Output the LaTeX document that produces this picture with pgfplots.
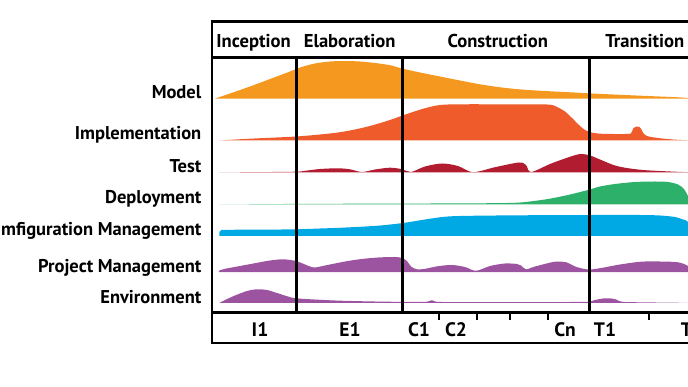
\documentclass[border=0pt]{standalone}
\usepackage{pgfplots}
\pgfplotsset{compat=1.18}
\usepackage{fontspec}
\setmainfont{PT Sans}
\definecolor{cModel}{RGB}{245,152,32}
\definecolor{cImpl}{RGB}{239,91,43}
\definecolor{cTest}{RGB}{178,28,48}
\definecolor{cDepl}{RGB}{45,176,106}
\definecolor{cConf}{RGB}{0,168,228}
\definecolor{cPM}{RGB}{157,84,160}
\begin{document}
\begin{tikzpicture}
\begin{axis}[name=ax, at={(0,0)}, anchor=south west, scale only axis,
  width=688pt, height=387pt, xmin=0, xmax=688, ymin=0, ymax=387,
  y dir=reverse, hide axis, clip=true]
% Model
\addplot[fill=cModel, draw=none, smooth] coordinates {(215,98.6) (230,93.5) (250,86.5) (270,79) (290,71.5) (300,67.5) (315,63.5) (330,61.5) (345,61) (360,61.5) (375,63) (390,65.2) (402,68.5) (420,72.5) (440,76.5) (460,80.5) (480,84.3) (500,87.3) (520,89.4) (545,91) (570,92.3) (590,93.4) (620,94.8) (650,96.1) (680,97.4) (695,98.6)} -- cycle;
% Implementation
\addplot[fill=cImpl, draw=none, smooth] coordinates {(219,140.5) (250,138.7) (296,136.5) (330,133.5) (350,130.5) (370,126) (390,120) (404,115) (424,108.5) (440,105) (460,104.3) (500,104.3) (547,104.5) (557,107) (565,111.5) (572,118) (579,125) (585,130) (592,132.6) (602,133.8) (625,134) (631,133.3) (633.5,128) (636.5,126.5) (639.5,127) (641.5,129.5) (644,134) (650,136.8) (670,139.3) (692,140.5)} -- cycle;
% Test
\addplot[fill=cTest, draw=none, smooth] coordinates {(219,172.4) (260,172.1) (296,171.7) (305,170.8) (320,169) (338,168.3) (350,169.3) (362,172) (375,169.5) (390,167.7) (402,169.2) (411,172) (425,166.5) (442,163.5) (458,166) (473,172.2) (495,167.2) (519,162.5) (526,165) (531,172) (550,164) (565,158.5) (580,154) (590,155.5) (600,159.5) (615,165.5) (630,168.5) (650,170.5) (692,172.4)} -- cycle;
% Deployment
\addplot[fill=cDepl, draw=none, smooth] coordinates {(219,204.5) (300,203.9) (400,203.6) (480,203.3) (515,202.8) (530,201.5) (548,199) (568,195) (588,190) (600,186.5) (615,184) (635,182) (655,181.5) (668,182) (678,184.5) (684,189) (688,196) (693,204.5)} -- cycle;
% Configuration Management
\addplot[fill=cConf, draw=none, smooth] coordinates {(219.5,235.8) (219.5,232) (221,230.3) (225,229.8) (260,229.7) (296,229.3) (320,228.5) (344,227.6) (378,225.7) (403,223) (425,219.5) (440,217.3) (451,216.3) (470,215.8) (520,215.3) (590,215) (640,215) (660,215.5) (675,217) (683,219.5) (688,222) (694,235.8)} -- cycle;
% Project Management
\addplot[fill=cPM, draw=none, smooth] coordinates {(218.5,272.2) (219.5,270.5) (225,268.8) (240,266) (255,263.2) (270,260.5) (283,259.3) (296,261) (305,264.5) (314,267.5) (325,265.5) (344,261.7) (360,259.2) (378,257.5) (395,257) (402,258) (407,261) (411,266.5) (417,269.3) (425,268.8) (438,266.2) (452,265) (465,267) (476,270.8) (490,266) (505,263.5) (517,264) (521,265.5) (526,269.3) (535,266.5) (555,261.7) (567,262.5) (575,266.5) (588,269.5) (600,268.2) (620,264.5) (641,261.7) (660,261.5) (678,262.3) (688,266) (693,272.2)} -- cycle;
% Environment
\addplot[fill=cPM, draw=none, smooth] coordinates {(219.5,302.9) (225,300) (235,295.5) (247,291) (257,289.3) (267,290) (277,293) (288,296.5) (296,298.3) (320,299.8) (344,300.8) (380,301.6) (420,302) (428,301.5) (432,300.2) (436,301.7) (450,302.1) (500,302.2) (570,302) (588,301.8) (595,300) (603,298.5) (610,298.3) (616,299.5) (622,301.8) (640,302.3) (692,302.9)} -- cycle;
% frame
\draw[line width=2.6pt, line join=miter] (axis cs:700,21.3) -- (axis cs:212,21.3) -- (axis cs:212,343) -- (axis cs:700,343);
\draw[line width=2.6pt] (axis cs:212,57.6) -- (axis cs:700,57.6);
\draw[line width=2.6pt] (axis cs:212,312.8) -- (axis cs:700,312.8);
\draw[line width=2.6pt] (axis cs:296.5,57.6) -- (axis cs:296.5,312.8);
\draw[line width=2.6pt] (axis cs:402.5,57.6) -- (axis cs:402.5,312.8);
\draw[line width=2.6pt] (axis cs:589.5,57.6) -- (axis cs:589.5,312.8);
\foreach \t in {439,477,510,548,649} {
  \edef\tmp{\noexpand\draw[line width=1.4pt] (axis cs:\t,313) -- (axis cs:\t,320);}\tmp
}
% header
\begin{scope}[font=\fontsize{18.6}{20}\selectfont\bfseries]
\node[anchor=base] at (axis cs:253.5,47.3) {Inception};
\node[anchor=base] at (axis cs:349.7,47.3) {Elaboration};
\node[anchor=base] at (axis cs:497.8,47.3) {Construction};
\node[anchor=base] at (axis cs:644.8,47.3) {Transition};
\end{scope}
% row labels
\begin{scope}[font=\fontsize{18.5}{20}\selectfont\bfseries]
\node[anchor=base east, inner sep=0pt] at (axis cs:201.5,98.5) {Model};
\node[anchor=base east, inner sep=0pt] at (axis cs:201.5,139.5) {Implementation};
\node[anchor=base east, inner sep=0pt] at (axis cs:201.5,173) {Test};
\node[anchor=base east, inner sep=0pt] at (axis cs:201.5,203.5) {Deployment};
\node[anchor=base east, inner sep=0pt] at (axis cs:201.5,235.7) {mfiguration Management};
\node[anchor=base east, inner sep=0pt] at (axis cs:201.5,272.3) {Project Management};
\node[anchor=base east, inner sep=0pt] at (axis cs:201.5,304) {Environment};
\end{scope}
\begin{scope}[font=\fontsize{19.5}{21}\selectfont\bfseries]
\node[anchor=base] at (axis cs:260,336.7) {I1};
\node[anchor=base] at (axis cs:350,336.7) {E1};
\node[anchor=base] at (axis cs:419,336.7) {C1};
\node[anchor=base] at (axis cs:456,336.7) {C2};
\node[anchor=base] at (axis cs:565,336.7) {Cn};
\node[anchor=base] at (axis cs:605,336.7) {T1};
\node[anchor=base] at (axis cs:692,336.7) {T2};
\end{scope}
\end{axis}
\pgfresetboundingbox
\path[use as bounding box] (ax.south west) rectangle (ax.north east);
\end{tikzpicture}
\end{document}
